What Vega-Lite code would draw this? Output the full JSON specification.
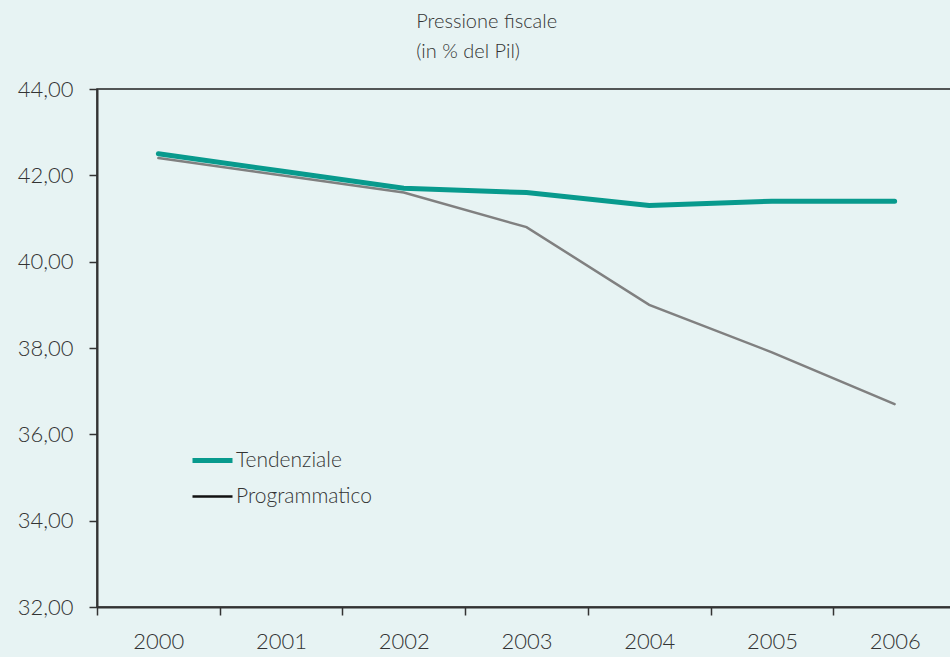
{
  "$schema": "https://vega.github.io/schema/vega-lite/v6.json",
  "autosize": "none",
  "width": 859,
  "height": 518,
  "padding": {"left": 97, "top": 89, "right": 0, "bottom": 50},
  "background": "#e7f3f3",
  "config": {
    "font": "Lato",
    "view": {"stroke": "#222222", "strokeWidth": 1.5},
    "axis": {"labelFont": "Lato", "labelFontWeight": 300, "labelColor": "#333333", "labelFontSize": 22, "domainColor": "#333333", "tickColor": "#333333", "domainWidth": 2, "tickWidth": 1.5, "tickSize": 8}
  },
  "title": {
    "text": ["Pressione fiscale", "(in % del Pil)"],
    "fontSize": 20,
    "font": "Lato",
    "fontWeight": 300,
    "color": "#333333",
    "anchor": "start",
    "dx": 399,
    "offset": 16,
    "lineHeight": 30
  },
  "data": {
    "values": [
      {"anno": "2000", "serie": "Programmatico", "valore": 42.4},
      {"anno": "2001", "serie": "Programmatico", "valore": 42.0},
      {"anno": "2002", "serie": "Programmatico", "valore": 41.6},
      {"anno": "2003", "serie": "Programmatico", "valore": 40.8},
      {"anno": "2004", "serie": "Programmatico", "valore": 39.0},
      {"anno": "2005", "serie": "Programmatico", "valore": 37.9},
      {"anno": "2006", "serie": "Programmatico", "valore": 36.7},
      {"anno": "2000", "serie": "Tendenziale", "valore": 42.5},
      {"anno": "2001", "serie": "Tendenziale", "valore": 42.1},
      {"anno": "2002", "serie": "Tendenziale", "valore": 41.7},
      {"anno": "2003", "serie": "Tendenziale", "valore": 41.6},
      {"anno": "2004", "serie": "Tendenziale", "valore": 41.3},
      {"anno": "2005", "serie": "Tendenziale", "valore": 41.4},
      {"anno": "2006", "serie": "Tendenziale", "valore": 41.4}
    ]
  },
  "encoding": {
    "x": {
      "field": "anno", "type": "ordinal",
      "scale": {"paddingInner": 0, "paddingOuter": 0},
      "axis": {"title": null, "labelAngle": 0, "tickBand": "extent", "labelPadding": 16, "grid": false}
    },
    "y": {
      "field": "valore", "type": "quantitative",
      "scale": {"domain": [32, 44], "nice": false, "zero": false},
      "axis": {"title": null, "values": [32, 34, 36, 38, 40, 42, 44], "grid": false, "labelPadding": 16, "labelExpr": "replace(format(datum.value, '.2f'), '.', ',')"}
    }
  },
  "layer": [
    {
      "transform": [{"filter": "datum.serie === 'Programmatico'"}],
      "mark": {"type": "line", "strokeCap": "round", "stroke": "#808080", "strokeWidth": 2.5}
    },
    {
      "transform": [{"filter": "datum.serie === 'Tendenziale'"}],
      "mark": {"type": "line", "strokeCap": "round"},
      "encoding": {
        "color": {
          "field": "serie", "type": "nominal",
          "scale": {"domain": ["Tendenziale", "Programmatico"], "range": ["#089a8d", "#111111"]},
          "legend": {
            "title": null, "orient": "none", "legendX": 93, "legendY": 349,
            "symbolType": "stroke", "symbolSize": 1600, "labelFontSize": 21, "labelFont": "Lato", "labelFontWeight": 300, "labelColor": "#333333", "rowPadding": 4, "labelOffset": 1
          }
        },
        "strokeWidth": {
          "field": "serie", "type": "nominal",
          "scale": {"domain": ["Tendenziale", "Programmatico"], "range": [5, 2.5]}
        }
      }
    }
  ]
}
